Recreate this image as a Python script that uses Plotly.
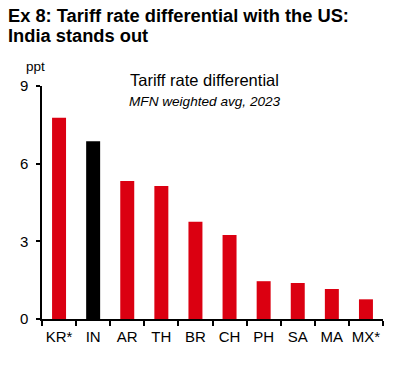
import plotly.graph_objects as go

categories = ["KR*", "IN", "AR", "TH", "BR", "CH", "PH", "SA", "MA", "MX*"]
values = [7.77, 6.87, 5.33, 5.14, 3.76, 3.24, 1.46, 1.39, 1.16, 0.76]
highlight = "IN"
y_ticks = [0, 3, 6, 9]

RED = "#DB0011"
colors = ["#000000" if c == highlight else RED for c in categories]
FONT = "Liberation Sans, Arial, sans-serif"

W, H = 399, 365
L, R, T, B = 42, 16, 86, 46
PW, PH = W - L - R, H - T - B


def px(xf):
    return (xf - L) / PW


def py(yf):
    return 1 - (yf - T) / PH


fig = go.Figure(go.Bar(x=categories, y=values, marker=dict(color=colors, line=dict(width=0)), width=0.41))

fig.update_layout(
    width=W, height=H,
    margin=dict(l=L, r=R, t=T, b=B),
    plot_bgcolor="white", paper_bgcolor="white",
    font=dict(family=FONT, size=14, color="#000"),
    showlegend=False,
)
fig.update_xaxes(
    range=[-0.5, 9.5], showline=True, linecolor="#000", linewidth=1.5,
    ticks="outside", tickson="boundaries", ticklen=5, tickwidth=1.5, tickcolor="#000",
    showgrid=False, tickfont=dict(size=15, family=FONT), tickangle=0, automargin=False,
    ticklabelstandoff=3,
)
fig.update_yaxes(
    range=[0, 9], tickvals=y_ticks, showline=True, linecolor="#000", linewidth=1.5,
    ticks="outside", ticklen=4, tickwidth=1.5, tickcolor="#000",
    showgrid=False, zeroline=False, tickfont=dict(size=15, family=FONT), automargin=False,
    ticklabelstandoff=5,
)

fig.add_annotation(text="<b>Ex 8: Tariff rate differential with the US:</b>",
                   xref="paper", yref="paper", x=px(7), y=py(15.5), xanchor="left", yanchor="middle",
                   borderpad=0, showarrow=False, font=dict(size=18.3, family=FONT, color="#000"))
fig.add_annotation(text="<b>India stands out</b>",
                   xref="paper", yref="paper", x=px(7), y=py(35.5), xanchor="left", yanchor="middle",
                   borderpad=0, showarrow=False, font=dict(size=18.3, family=FONT, color="#000"))
fig.add_annotation(text="ppt", xref="paper", yref="paper", x=px(35), y=py(66),
                   xanchor="center", yanchor="middle", showarrow=False, font=dict(size=13.5, family=FONT))
fig.add_annotation(text="Tariff rate differential", xref="paper", yref="paper", x=px(128), y=py(80),
                   xanchor="left", yanchor="middle", showarrow=False, font=dict(size=16.5, family=FONT))
fig.add_annotation(text="<i>MFN weighted avg, 2023</i>", xref="paper", yref="paper", x=px(127), y=py(101),
                   xanchor="left", yanchor="middle", showarrow=False, font=dict(size=13.6, family=FONT))

# remove the page's default 8px body margin so the figure fills the window
fig.write_html("out.html", config={"displayModeBar": False},
               post_script="document.body.style.margin='0px';")
